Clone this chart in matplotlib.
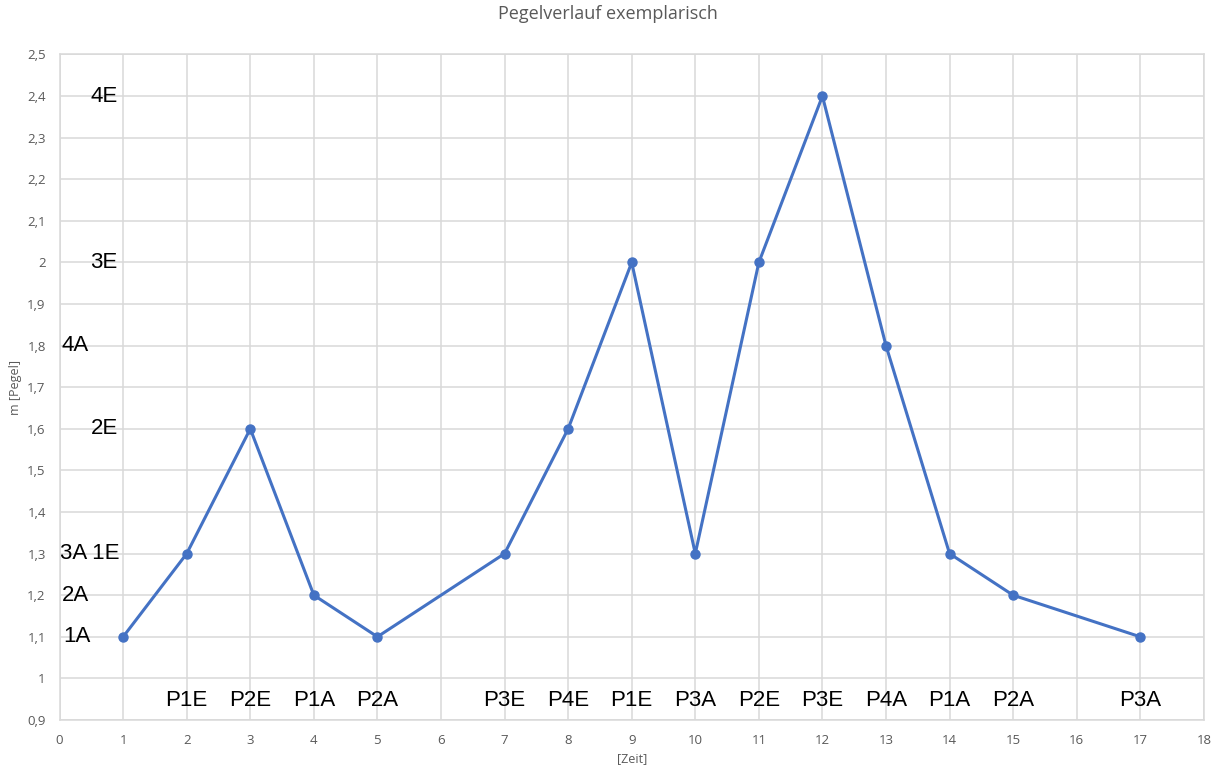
import matplotlib
matplotlib.use("Agg")
import matplotlib.pyplot as plt
from matplotlib.ticker import FuncFormatter, MultipleLocator

# data
zeit = [1, 2, 3, 4, 5, 7, 8, 9, 10, 11, 12, 13, 14, 15, 17]
pegel = [1.1, 1.3, 1.6, 1.2, 1.1, 1.3, 1.6, 2.0, 1.3, 2.0, 2.4, 1.8, 1.3, 1.2, 1.1]
pumpen = ["P1E", "P2E", "P1A", "P2A", "P3E", "P4E", "P1E", "P3A",
          "P2E", "P3E", "P4A", "P1A", "P2A", "P3A"]
pumpen_x = [2, 3, 4, 5, 7, 8, 9, 10, 11, 12, 13, 14, 15, 17]
stufen = ["4E", "3E", "4A", "2E", "3A 1E", "2A", "1A"]
stufen_y = [2.4, 2.0, 1.8, 1.6, 1.3, 1.2, 1.1]
stufen_x = [0.7, 0.7, 0.25, 0.7, 0.47, 0.25, 0.28]

grey = "#595959"
grid_c = "#d9d9d9"
label_font = ["Liberation Sans Narrow", "Liberation Sans", "DejaVu Sans"]

fig = plt.figure(figsize=(12.16, 7.67), dpi=100)
ax = fig.add_axes([0.049, 0.0613, 0.941, 0.8677])

ax.plot(zeit, pegel, color="#4472C4", lw=2.2, marker="o", ms=6.5, zorder=3)

for lab, x in zip(pumpen, pumpen_x):
    ax.text(x, 0.946, lab, ha="center", va="center", fontsize=16,
            family=label_font, color="black")
for lab, x, y in zip(stufen, stufen_x, stufen_y):
    ax.text(x, y, lab, ha="center", va="center", fontsize=16,
            family=label_font, color="black")

ax.set_xlim(0, 18)
ax.set_ylim(0.9, 2.5)
ax.xaxis.set_major_locator(MultipleLocator(1))
ax.yaxis.set_major_locator(MultipleLocator(0.1))
ax.yaxis.set_major_formatter(FuncFormatter(lambda v, p: f"{v:.1f}".rstrip("0").rstrip(".").replace(".", ",")))
ax.grid(True, color=grid_c, lw=1.1)
ax.set_axisbelow(True)
for s in ax.spines.values():
    s.set_color(grid_c)
    s.set_linewidth(1.1)
ax.tick_params(length=0, colors=grey, labelsize=9.5, pad=10)
for t in ax.get_xticklabels() + ax.get_yticklabels():
    t.set_family("Open Sans")

fig.text(0.5, 0.982, "Pegelverlauf exemplarisch", color=grey, fontsize=13,
         family="Open Sans", ha="center", va="center")
ax.set_xlabel("[Zeit]", color=grey, fontsize=9, family="Open Sans", labelpad=4)
ax.set_ylabel("m [Pegel]", color=grey, fontsize=9, family="Open Sans", labelpad=4)

fig.savefig("out.png", dpi=100)
